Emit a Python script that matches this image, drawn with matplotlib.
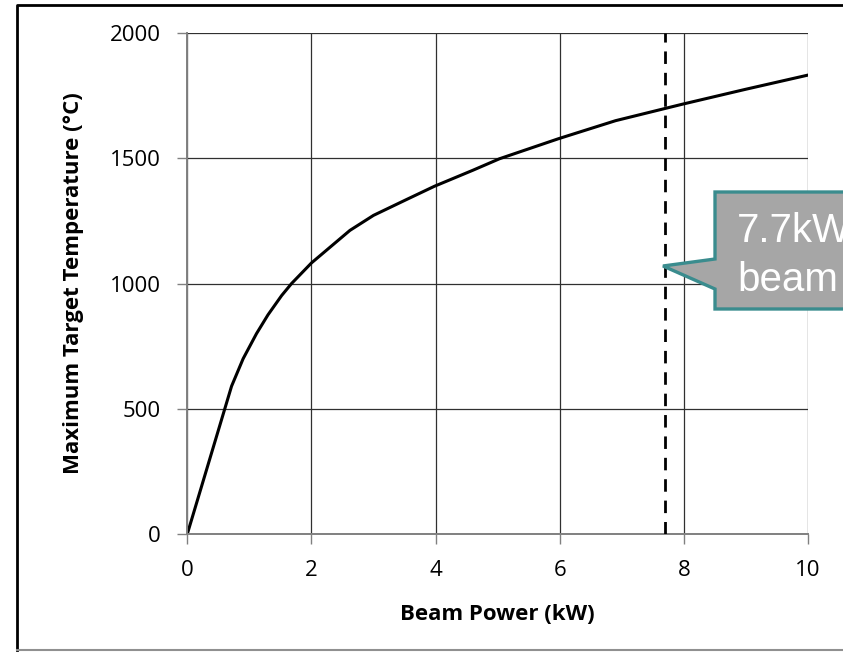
import numpy as np
import matplotlib.pyplot as plt
from matplotlib.patches import Polygon
from matplotlib.lines import Line2D

# Curve
beam_power = [0, 0.713, 0.90, 1.115, 1.30, 1.52, 1.68, 2.0, 2.62, 3.0, 3.53, 3.98,
              4.60, 5.03, 5.98, 6.90, 7.98, 8.99, 10.0]
max_temp = [0, 590, 700, 800, 875, 952, 1000, 1082, 1212, 1272, 1335, 1388,
            1452, 1498, 1578, 1650, 1716, 1775, 1832]
x_ticks = [0, 2, 4, 6, 8, 10]
y_ticks = [0, 500, 1000, 1500, 2000]
beam_limit = 7.7
callout_lines = ["7.7kW", "beam"]

W, H = 843, 653
fig = plt.figure(figsize=(W / 100, H / 100), dpi=100)
ax = fig.add_axes([187.3 / W, 1 - 534 / H, (808 - 187.3) / W, (534 - 33) / H])

tick_font = "Open Sans"
ax.plot(beam_power, max_temp, color="black", lw=2.2, solid_joinstyle="round")
ax.axvline(beam_limit, color="black", lw=2.0, dashes=(4.5, 3.2), zorder=3)

ax.set_xlim(0, 10)
ax.set_ylim(0, 2000)
ax.set_xticks(x_ticks)
ax.set_yticks(y_ticks)
ax.grid(True, color="#303030", lw=0.9)
ax.set_axisbelow(True)
for side in ["top", "right"]:
    ax.spines[side].set_visible(False)
for side in ["left", "bottom"]:
    ax.spines[side].set_color("#808080")
    ax.spines[side].set_linewidth(1.4)
ax.tick_params(direction="out", length=7, width=1.0, color="#808080",
               labelsize=16)
ax.tick_params(axis="x", pad=12)
ax.tick_params(axis="y", pad=12)
for lab in ax.get_xticklabels() + ax.get_yticklabels():
    lab.set_family(tick_font)

ax.set_xlabel("Beam Power (kW)", fontsize=16, fontweight="bold",
              family=tick_font, labelpad=16)
ax.set_ylabel("Maximum Target Temperature (°C)", fontsize=16,
              fontweight="bold", family=tick_font, labelpad=19)

# callout box pointing at the dashed line (pixel coords, top-left origin)
def px(x, y):
    return (x / W, 1 - y / H)

pts = [px(715, 192), px(900, 192), px(900, 309), px(715, 309),
       px(715, 289), px(663, 266), px(715, 259)]
fig.patches.append(Polygon(pts, closed=True, transform=fig.transFigure,
                           facecolor="#A6A6A6", edgecolor="#3A8C8E", lw=2.4,
                           joinstyle="miter", zorder=5))
fig.text(737 / W, 1 - 242 / H, callout_lines[0], color="white", fontsize=29,
         family="Liberation Sans", va="baseline", zorder=6)
fig.text(737 / W, 1 - 291 / H, callout_lines[1], color="white", fontsize=29,
         family="Liberation Sans", va="baseline", zorder=6)

# slide frame
fig.lines.append(Line2D([17 / W, 17 / W, 1.0], [1 - 650 / H, 1 - 5 / H, 1 - 5 / H],
                        transform=fig.transFigure, color="black", lw=2))
fig.lines.append(Line2D([17 / W, 1.0], [1 - 650 / H, 1 - 650 / H],
                        transform=fig.transFigure, color="#909090", lw=1.5))

fig.savefig("out.png", dpi=100)
